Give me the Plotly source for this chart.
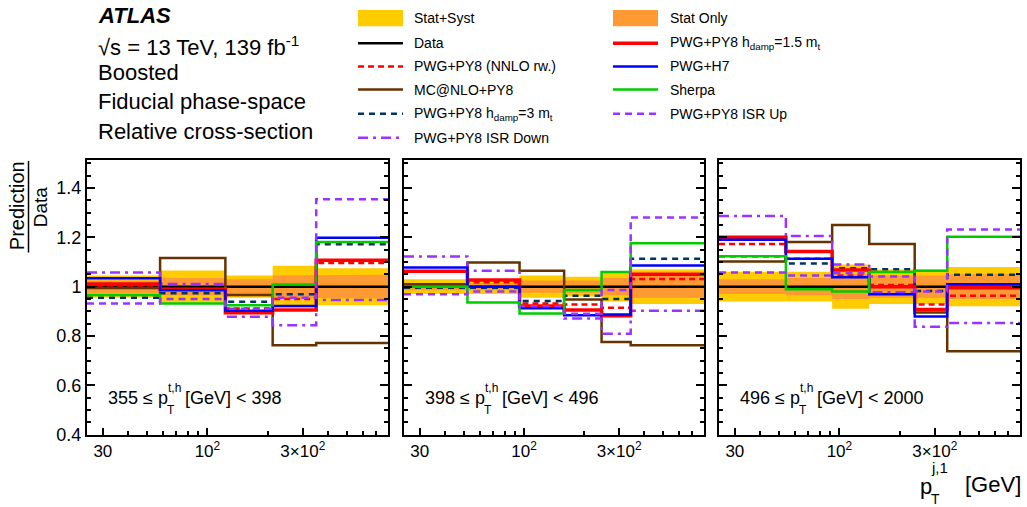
import plotly.graph_objects as go
import numpy as np

# bin edges of the leading-jet pT per top-pT slice
edges = [
    [25, 58, 123, 212, 350, 800],
    [25, 52, 95, 159, 245, 343, 800],
    [25, 54, 92, 141, 238, 346, 800],
]
slice_lo = ["355", "398", "496"]
slice_hi = ["398", "496", "2000"]

# uncertainty half-widths on data (relative)
tot_err = [[0.045, 0.065, 0.045, 0.085, 0.075],
           [0.03, 0.03, 0.045, 0.04, 0.06, 0.07],
           [0.06, 0.06, 0.09, 0.07, 0.07, 0.08]]
stat_err = [[0.025, 0.035, 0.03, 0.045, 0.048],
            [0.015, 0.015, 0.025, 0.025, 0.035, 0.045],
            [0.03, 0.035, 0.05, 0.045, 0.045, 0.05]]

data = [[1.0, 1.0, 1.0, 1.0, 1.0],
        [1.0, 1.0, 1.0, 1.0, 1.0, 1.0],
        [1.0, 1.0, 1.0, 1.0, 1.0, 1.0]]
nnlo = [[1.005, 0.99, 0.911, 0.95, 1.096],
        [1.06, 1.018, 0.932, 0.928, 0.914, 1.031],
        [1.173, 1.113, 1.045, 1.007, 0.928, 0.963]]
mcnlo = [[0.995, 1.116, 0.966, 0.762, 0.771],
         [1.01, 1.098, 1.064, 0.948, 0.775, 0.762],
         [1.102, 1.181, 1.25, 1.173, 0.895, 0.738]]
hdamp3 = [[0.955, 0.973, 0.939, 0.969, 1.172],
          [0.996, 0.996, 0.942, 0.963, 0.95, 1.113],
          [1.123, 1.094, 1.075, 1.071, 0.982, 1.048]]
isr_down = [[1.057, 1.011, 0.878, 0.843, 0.946],
            [1.122, 1.064, 0.915, 0.871, 0.809, 0.902],
            [1.287, 1.205, 1.09, 0.977, 0.837, 0.853]]
hdamp15 = [[1.011, 0.989, 0.894, 0.905, 1.107],
           [1.062, 1.027, 0.922, 0.905, 0.882, 1.05],
           [1.2, 1.143, 1.068, 1.0, 0.907, 0.996]]
h7 = [[1.034, 0.985, 0.902, 0.922, 1.198],
      [1.078, 1.0, 0.912, 0.884, 0.887, 1.086],
      [1.19, 1.113, 1.038, 0.969, 0.879, 1.01]]
sherpa = [[0.966, 0.932, 0.925, 1.009, 1.181],
          [1.0, 0.936, 0.891, 0.986, 1.059, 1.176],
          [1.123, 0.989, 0.98, 1.059, 1.064, 1.202]]
isr_up = [[0.932, 0.95, 0.91, 0.955, 1.355],
          [0.969, 0.98, 0.92, 0.89, 0.986, 1.28],
          [1.057, 1.045, 1.055, 1.041, 0.98, 1.232]]

# positions below are given on a 1027x507 grid and converted to paper fractions
W, H = 1027, 507
FONT = "Liberation Sans, Arial, sans-serif"
YELLOW, ORANGE = "#FFCC00", "#FF9933"
PURPLE, NAVY, BROWN = "#9933FF", "#003366", "#663300"

# name, values, colour, dash, width
series = [
    ("Data", data, "black", "solid", 2.5),
    ("PWG+PY8 (NNLO rw.)", nnlo, "#FF0000", "6px,4px", 2.5),
    ("MC@NLO+PY8", mcnlo, BROWN, "solid", 2.5),
    ("PWG+PY8 h<sub>damp</sub>=3 m<sub>t</sub>", hdamp3, NAVY, "6px,5px", 2.5),
    ("PWG+PY8 ISR Down", isr_down, PURPLE, "10px,5px,3px,5px", 2.5),
    ("PWG+PY8 h<sub>damp</sub>=1.5 m<sub>t</sub>", hdamp15, "#FF0000", "solid", 3.5),
    ("PWG+H7", h7, "#0000FF", "solid", 2.5),
    ("Sherpa", sherpa, "#00CC00", "solid", 2.5),
    ("PWG+PY8 ISR Up", isr_up, PURPLE, "7px,5px", 2.5),
]


def px(x):
    return x / W


def py(y):
    return 1 - y / H


def text(x, y, txt, size, xanchor="left", angle=0):
    fig.add_annotation(x=px(x), y=py(y), xref="paper", yref="paper", xanchor=xanchor,
                       yanchor="middle", showarrow=False, text=txt, textangle=angle,
                       borderpad=0, font=dict(family=FONT, size=size, color="black"))


def band(e, err):
    xs, ys = [], []
    for i in range(len(err)):
        xs += [e[i], e[i + 1]]
        ys += [1 + err[i], 1 + err[i]]
    for i in reversed(range(len(err))):
        xs += [e[i + 1], e[i]]
        ys += [1 - err[i], 1 - err[i]]
    return xs, ys


fig = go.Figure()
xdoms = [(87, 388), (404, 704), (719, 1020)]

for p in range(3):
    xa = "x" if p == 0 else f"x{p + 1}"
    ya = "y" if p == 0 else f"y{p + 1}"
    e = edges[p]
    for err, col in [(tot_err[p], YELLOW), (stat_err[p], ORANGE)]:
        bx, by = band(e, err)
        fig.add_trace(go.Scatter(x=bx, y=by, fill="toself", fillcolor=col, mode="lines",
                                 line=dict(width=0), xaxis=xa, yaxis=ya,
                                 showlegend=False, hoverinfo="skip"))
    for name, vals, col, dash, w in series:
        v = vals[p]
        fig.add_trace(go.Scatter(x=e, y=v + v[-1:], mode="lines", line_shape="hv",
                                 line=dict(color=col, dash=dash, width=w),
                                 xaxis=xa, yaxis=ya, name=name, showlegend=False))

    xminor = [40, 50, 60, 70, 80, 90, 200, 400, 500, 600, 700, 800]
    xaxis = dict(type="log", range=[np.log10(25), np.log10(800)],
                 domain=[px(xdoms[p][0]), px(xdoms[p][1])], anchor=ya,
                 tickmode="array", tickvals=[30, 100, 300],
                 ticktext=["30", "10<sup>2</sup>", "3×10<sup>2</sup>"],
                 ticks="inside", ticklen=7, tickwidth=1.5, tickcolor="black",
                 minor=dict(tickvals=xminor, ticks="inside", ticklen=4,
                            tickwidth=1.5, tickcolor="black"),
                 showline=True, linecolor="black", linewidth=2, mirror=True,
                 showgrid=False, zeroline=False,
                 tickfont=dict(family=FONT, size=17, color="black"))
    yaxis = dict(range=[0.4, 1.514], domain=[py(432), py(159)], anchor=xa,
                 tickmode="array", tickvals=[0.4, 0.6, 0.8, 1.0, 1.2, 1.4],
                 ticktext=["0.4", "0.6", "0.8", "1", "1.2", "1.4"],
                 ticks="inside", ticklen=8, tickwidth=1.5, tickcolor="black",
                 minor=dict(tickvals=list(np.round(np.arange(0.45, 1.51, 0.05), 2)),
                            ticks="inside", ticklen=4, tickwidth=1.5, tickcolor="black"),
                 showline=True, linecolor="black", linewidth=2, mirror="ticks",
                 showgrid=False, zeroline=False, showticklabels=(p == 0),
                 tickfont=dict(family=FONT, size=18, color="black"))
    fig.layout["xaxis" if p == 0 else f"xaxis{p + 1}"] = xaxis
    fig.layout["yaxis" if p == 0 else f"yaxis{p + 1}"] = yaxis

    # slice label, p_T with stacked super/subscript
    x0 = xdoms[p][0] + 20
    text(x0, 396, f"{slice_lo[p]} ≤ p", 18)
    text(x0 + 67, 386, "t,h", 12, xanchor="center")
    text(x0 + 64, 408, "T", 12, xanchor="center")
    text(x0 + 77, 396, f"[GeV] < {slice_hi[p]}", 18)

# header text
text(97, 15, "<b><i>ATLAS</i></b>", 22)
text(97, 46, "√s = 13 TeV, 139 fb<sup>-1</sup>", 22)
text(97, 72, "Boosted", 22)
text(97, 101, "Fiducial phase-space", 22)
text(97, 131, "Relative cross-section", 22)

# legend drawn by hand in two columns
rows = [18, 43, 66, 89, 113, 137]
leg_left = ["Data", "PWG+PY8 (NNLO rw.)", "MC@NLO+PY8",
            "PWG+PY8 h<sub>damp</sub>=3 m<sub>t</sub>", "PWG+PY8 ISR Down"]
leg_right = ["PWG+PY8 h<sub>damp</sub>=1.5 m<sub>t</sub>", "PWG+H7", "Sherpa", "PWG+PY8 ISR Up"]
style = {s[0]: s for s in series}

for (x0, x1, tx), fill, lab in [((358, 403, 413), YELLOW, "Stat+Syst"),
                                ((613, 658, 669), ORANGE, "Stat Only")]:
    fig.add_shape(type="rect", xref="paper", yref="paper", x0=px(x0), x1=px(x1),
                  y0=py(rows[0] + 8), y1=py(rows[0] - 8), fillcolor=fill, line=dict(width=0))
    text(tx, rows[0], lab, 14)

for col, names in [((358, 403, 413), leg_left), ((613, 658, 669), leg_right)]:
    for i, nm in enumerate(names):
        _, _, c, d, w = style[nm]
        yy = rows[i + 1]
        fig.add_shape(type="line", xref="paper", yref="paper", x0=px(col[0]), x1=px(col[1]),
                      y0=py(yy), y1=py(yy), line=dict(color=c, dash=d, width=w))
        text(col[2], yy, nm, 14)

# y-axis title as a rotated fraction
text(17, 205, "Prediction", 20, xanchor="center", angle=-90)
text(40, 206, "Data", 19, xanchor="center", angle=-90)
fig.add_shape(type="line", xref="paper", yref="paper", x0=px(28.5), x1=px(28.5),
              y0=py(160), y1=py(251), line=dict(color="black", width=1.5))

# x-axis title
text(926, 484, "p", 22, xanchor="center")
text(939, 465, "j,1", 15, xanchor="center")
text(935, 496, "T", 14, xanchor="center")
text(1022, 482, "[GeV]", 22, xanchor="right")

# the page comes out slightly squeezed vertically, so draw on a taller canvas
fig.update_layout(width=W, height=520, margin=dict(l=0, r=0, t=0, b=0),
                  paper_bgcolor="white", plot_bgcolor="white", showlegend=False)

page_css = ("document.documentElement.style.overflow='hidden';"
            "document.body.style.margin='0px';"
            "document.body.style.overflow='hidden';")
fig.write_html("out.html", config={"displayModeBar": False}, post_script=page_css)
